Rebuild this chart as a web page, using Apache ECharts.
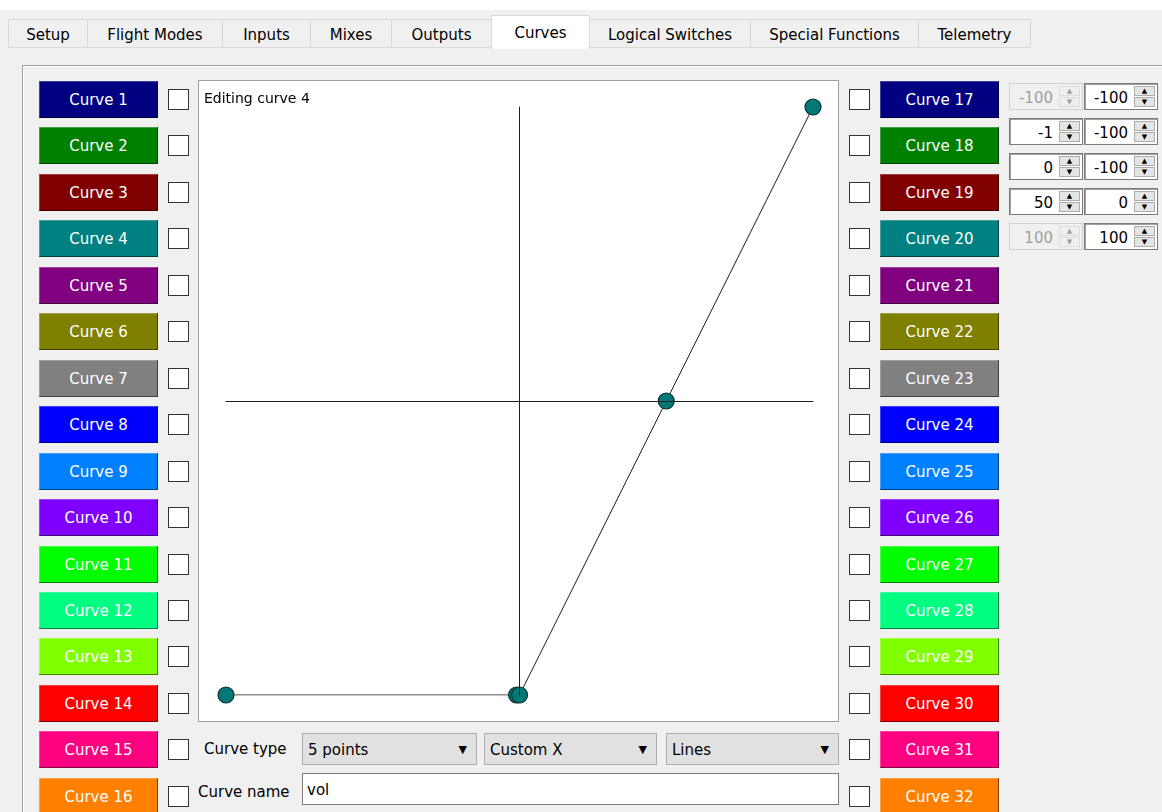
<!DOCTYPE html>
<html>
<head>
<meta charset="utf-8">
<script src="https://cdn.jsdelivr.net/npm/echarts/dist/echarts.min.js"></script>
<style>
  body { margin: 0; width: 1162px; height: 812px; background: #f0f0f0; overflow: hidden;
         font-family: 'DejaVu Sans', sans-serif; font-size: 15px; color: #000; position: relative; }
  .abs { position: absolute; box-sizing: border-box; }
  .tab { position: absolute; top: 19px; height: 29px; background: #f0f0f0; border: 1px solid #d9d9d9;
         box-sizing: border-box; text-align: center; line-height: 31px; font-size: 15px; }
  .tab.on { top: 15px; height: 34px; background: #fff; border-bottom: none; line-height: 35px; }
  .btn { position: absolute; width: 119px; height: 37px; color: #fff; text-align: center; line-height: 39px;
         font-size: 15px; box-shadow: inset -1px -1px 0 rgba(0,0,0,0.5), inset 1px 1px 0 rgba(255,255,255,0.25); }
  .chk { position: absolute; width: 21px; height: 21px; background: #fff; border: 1px solid #333; box-sizing: border-box; }
  .spin { position: absolute; width: 74px; height: 27px; background: #fff; border: 1px solid #7a7a7a;
          box-shadow: inset 1px 1px 0 #a0a0a0; box-sizing: border-box; }
  .spin .v { position: absolute; right: 29px; top: 2px; line-height: 25px; font-size: 15px; }
  .spin .arr { position: absolute; right: 2px; top: 2px; width: 21px; height: 21px; }
  .spin .arr div { height: 10px; background: #e5e5e5; border: 1px solid #adadad; box-sizing: border-box;
                   font-size: 7px; line-height: 8px; text-align: center; }
  .spin.off { background: #f0f0f0; border-color: #d0d0d0; box-shadow: none; color: #a0a0a0; }
  .spin.off .arr div { background: #f0f0f0; border-color: #dcdcdc; color: #a0a0a0; }
  .combo { position: absolute; top: 733px; height: 32px; background: #e1e1e1; border: 1px solid #adadad;
           box-sizing: border-box; line-height: 32px; padding-left: 5px; font-size: 15px; }
  .combo span { position: absolute; right: 9px; top: 0; font-size: 11px; }
</style>
</head>
<body>
<div class="abs" style="left:0;top:0;width:1162px;height:10px;background:#fff"></div>
<div class="abs" style="left:22px;top:65px;width:1150px;height:760px;border:1px solid #a0a0a0;box-shadow:inset 1px 1px 0 #fff"></div>
<div class="abs" style="left:198px;top:80px;width:641px;height:642px;border:1px solid #a0a0a0;background:#fff">
  <div id="chart" style="width:639px;height:640px"></div>
</div>
<script>
// tabs
var tabNames = ['Setup', 'Flight Modes', 'Inputs', 'Mixes', 'Outputs', 'Curves', 'Logical Switches', 'Special Functions', 'Telemetry'];
var activeTab = 'Curves';

// curve buttons (1..16 and 17..32 share the colours)
var curveColors = ['#000080', '#008000', '#800000', '#008080', '#800080', '#808000', '#808080', '#0000ff',
                   '#0080ff', '#8000ff', '#00ff00', '#00ff80', '#80ff00', '#ff0000', '#ff0080', '#ff8000'];

// edited curve points
var editedCurve = 4;
var pointX = [-100, -1, 0, 50, 100];
var pointY = [-100, -100, -100, 0, 100];

// bottom controls
var curveTypeOptions = ['5 points', 'Custom X', 'Lines'];
var curveName = 'vol';

var body = document.body;
function add(cls, style, html) {
    var d = document.createElement('div');
    d.className = cls;
    d.setAttribute('style', style);
    if (html !== undefined) d.innerHTML = html;
    body.appendChild(d);
    return d;
}

// tab bar
var tabEdges = [8, 87, 222, 310, 391, 491, 589, 750, 918, 1030];
tabNames.forEach(function (name, i) {
    var w = tabEdges[i + 1] - tabEdges[i];
    add('tab' + (name === activeTab ? ' on' : ''), 'left:' + tabEdges[i] + 'px;width:' + (w + 1) + 'px', name);
});

// curve buttons + checkboxes
for (var i = 0; i < 32; i++) {
    var row = i % 16;
    var rowTop = Math.round(81 + row * 46.45);
    var onRight = i >= 16;
    add('btn', 'left:' + (onRight ? 880 : 39) + 'px;top:' + rowTop + 'px;background:' + curveColors[row], 'Curve ' + (i + 1));
    add('chk', 'left:' + (onRight ? 849 : 168) + 'px;top:' + (rowTop + 8) + 'px');
}

// point spin boxes
function spin(x, y, val, off) {
    add('spin' + (off ? ' off' : ''), 'left:' + x + 'px;top:' + y + 'px',
        '<div class="v">' + val + '</div><div class="arr"><div>&#9650;</div><div style="margin-top:1px">&#9660;</div></div>');
}
pointX.forEach(function (x, r) {
    var y = 83 + r * 35;
    spin(1009, y, x, r === 0 || r === pointX.length - 1);
    spin(1084, y, pointY[r], false);
});

// bottom row
add('abs', 'left:204px;top:740px;font-size:15px', 'Curve type');
add('combo', 'left:302px;width:175px', curveTypeOptions[0] + '<span>&#9660;</span>');
add('combo', 'left:484px;width:173px', curveTypeOptions[1] + '<span>&#9660;</span>');
add('combo', 'left:666px;width:173px', curveTypeOptions[2] + '<span>&#9660;</span>');
add('abs', 'left:198px;top:783px;font-size:15px', 'Curve name');
add('abs', 'left:302px;top:773px;width:537px;height:32px;background:#fff;border:1px solid #7a7a7a;padding-left:4px;line-height:33px;font-size:15px', curveName);

// the curve editor chart
var chart = echarts.init(document.getElementById('chart'));
var axisCommon = {
    type: 'value',
    min: -100,
    max: 100,
    z: 5,
    axisLine: { onZero: true, lineStyle: { color: '#1e1e1e', width: 1 } },
    axisTick: { show: false },
    axisLabel: { show: false },
    splitLine: { show: false }
};
chart.setOption({
    animation: false,
    title: {
        text: 'Editing curve ' + editedCurve,
        left: 5,
        top: 11,
        padding: 0,
        textStyle: { fontFamily: 'DejaVu Sans', fontSize: 14, fontWeight: 'normal', color: '#000' }
    },
    grid: { left: 27, top: 26, width: 587, height: 588 },
    xAxis: axisCommon,
    yAxis: axisCommon,
    series: [{
        type: 'line',
        data: pointX.map(function (x, i) { return [x, pointY[i]]; }),
        symbol: 'circle',
        symbolSize: 16,
        lineStyle: { color: '#1e1e1e', width: 1 },
        itemStyle: { color: '#007878', borderColor: '#0f2f2f', borderWidth: 1.2 },
        emphasis: { disabled: true }
    }]
});
</script>
</body>
</html>
